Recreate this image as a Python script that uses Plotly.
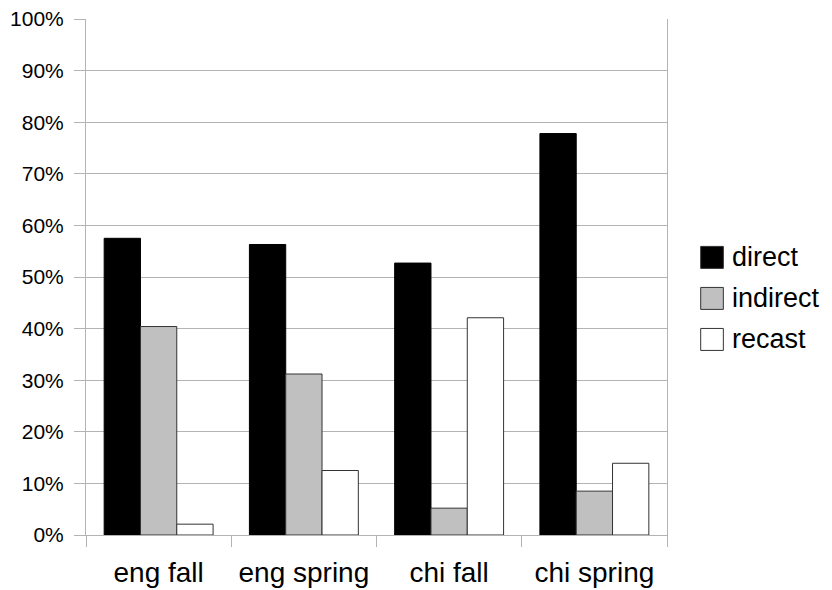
import plotly.graph_objects as go

categories = ["eng fall", "eng spring", "chi fall", "chi spring"]
series_names = ["direct", "indirect", "recast"]
direct = [0.575, 0.563, 0.527, 0.778]
indirect = [0.404, 0.312, 0.052, 0.085]
recast = [0.021, 0.125, 0.421, 0.139]
y_ticks = [i / 10 for i in range(11)]

colors = ["#000000", "#c0c0c0", "#ffffff"]
values = [direct, indirect, recast]

fig = go.Figure()
for name, vals, col in zip(series_names, values, colors):
    fig.add_trace(go.Bar(
        x=categories, y=vals, name=name, showlegend=False,
        marker=dict(color=col, line=dict(color="#333333" if col != "#000000" else "#000000", width=1)),
    ))

# Manual legend (larger swatches like the reference)
FONT = "Liberation Sans, Arial, sans-serif"
shapes = []
annotations = []
for i, (name, col) in enumerate(zip(series_names, colors)):
    yc = 0.538 - i * 0.0795
    shapes.append(dict(type="rect", xref="paper", yref="paper",
                       x0=1.058, x1=1.097, y0=yc - 0.0213, y1=yc + 0.0213,
                       fillcolor=col, line=dict(color="#333333", width=1)))
    annotations.append(dict(x=1.108, y=yc, xref="paper", yref="paper", text=name,
                            showarrow=False, xanchor="left", yanchor="middle",
                            font=dict(size=27, color="black", family=FONT)))

fig.update_layout(
    width=824, height=582,
    margin=dict(l=78, r=165, t=11, b=55),
    paper_bgcolor="white", plot_bgcolor="white",
    barmode="group", bargap=0.25, bargroupgap=0,
    font=dict(family=FONT, color="black"),
    shapes=shapes, annotations=annotations,
)
fig.update_xaxes(
    type="category", tickson="boundaries", ticks="outside", ticklen=11,
    tickcolor="#b3b3b3", showline=True, linecolor="#b3b3b3", linewidth=1,
    showgrid=False, tickfont=dict(size=28), ticklabelstandoff=12, automargin=False,
    ticklabeloverflow="allow",
)
fig.update_yaxes(
    range=[0, 1], tickvals=y_ticks, tickformat=".0%",
    ticks="outside", ticklen=11, tickcolor="#b3b3b3",
    showline=True, linecolor="#b3b3b3", linewidth=1, mirror=True,
    showgrid=True, gridcolor="#b3b3b3", gridwidth=1,
    tickfont=dict(size=21), ticklabelstandoff=6, zeroline=False, automargin=False,
    ticklabeloverflow="allow",
)

fig.write_html("out.html")
